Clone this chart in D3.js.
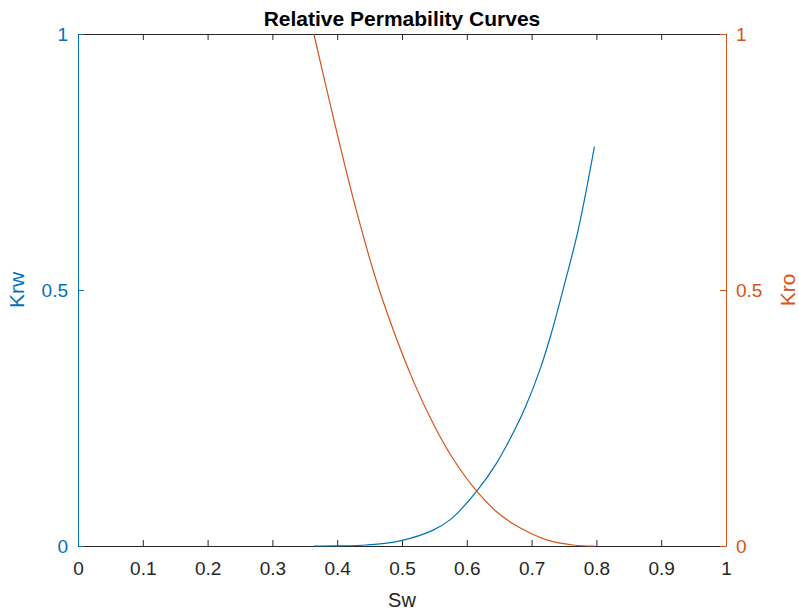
<!DOCTYPE html>
<html>
<head>
<meta charset="utf-8">
<script src="https://cdn.jsdelivr.net/npm/d3@7"></script>
<style>
  body { margin: 0; background: #fff; }
  text { font-family: "Liberation Sans", Arial, sans-serif; }
</style>
</head>
<body>
<svg id="chart" width="799" height="612"></svg>
<script>
// water saturation / relative permeability
const swKrw = [0.364, 0.40, 0.445, 0.497, 0.548, 0.574, 0.59, 0.616, 0.645, 0.672, 0.69, 0.713, 0.731, 0.7515, 0.772, 0.797];
const krw   = [0, 0.0003, 0.002, 0.010, 0.031, 0.051, 0.070, 0.108, 0.160, 0.222, 0.270, 0.345, 0.418, 0.515, 0.618, 0.780];
const swKro = [0.364, 0.40, 0.4275, 0.465, 0.5175, 0.551, 0.58, 0.616, 0.645, 0.672, 0.70, 0.723, 0.764, 0.797];
const kro   = [1.0, 0.805, 0.665, 0.50, 0.322, 0.232, 0.168, 0.106, 0.068, 0.043, 0.024, 0.012, 0.002, 0];

const xTicks = [0, 0.1, 0.2, 0.3, 0.4, 0.5, 0.6, 0.7, 0.8, 0.9, 1];
const yTicks = [0, 0.5, 1];

const blue = "#0072BD", orange = "#D95319", grey = "#262626";
const margin = { left: 78, right: 73, top: 34, bottom: 66 };
const width = 799, height = 612;

const svg = d3.select("#chart");

const x = d3.scaleLinear().domain([0, 1]).range([margin.left, width - margin.right]);
const yL = d3.scaleLinear().domain([0, 1]).range([height - margin.bottom, margin.top]);
const yR = d3.scaleLinear().domain([0, 1]).range([height - margin.bottom, margin.top]);

const fmt = d => String(d);

// bottom axis
const bottomAxis = svg.append("g")
    .attr("transform", `translate(0,${height - margin.bottom})`)
    .call(d3.axisBottom(x).tickValues(xTicks).tickFormat(fmt).tickSizeInner(-6).tickSizeOuter(0).tickPadding(16));
// top axis (box line with ticks)
const topAxis = svg.append("g")
    .attr("transform", `translate(0,${margin.top})`)
    .call(d3.axisTop(x).tickValues(xTicks).tickFormat("").tickSizeInner(-6).tickSizeOuter(0));
[bottomAxis, topAxis].forEach(g => {
  g.select(".domain").attr("stroke", grey);
  g.selectAll(".tick line").attr("stroke", grey);
  g.selectAll("text").attr("fill", grey).attr("font-size", 19);
});

// left axis
const leftAxis = svg.append("g")
    .attr("transform", `translate(${margin.left},0)`)
    .call(d3.axisLeft(yL).tickValues(yTicks).tickFormat(fmt).tickSizeInner(-6).tickSizeOuter(0).tickPadding(10));
leftAxis.select(".domain").attr("stroke", blue);
leftAxis.selectAll(".tick line").attr("stroke", blue);
leftAxis.selectAll("text").attr("fill", blue).attr("font-size", 19);

// right axis
const rightAxis = svg.append("g")
    .attr("transform", `translate(${width - margin.right},0)`)
    .call(d3.axisRight(yR).tickValues(yTicks).tickFormat(fmt).tickSizeInner(-6).tickSizeOuter(0).tickPadding(10));
rightAxis.select(".domain").attr("stroke", orange);
rightAxis.selectAll(".tick line").attr("stroke", orange);
rightAxis.selectAll("text").attr("fill", orange).attr("font-size", 19);

// curves
const line = (xs, ys, yScale) => d3.line()
    .x((d, i) => x(xs[i]))
    .y(d => yScale(d))
    .curve(d3.curveCatmullRom.alpha(0.5))(ys);

svg.append("path").attr("d", line(swKrw, krw, yL))
    .attr("fill", "none").attr("stroke", blue).attr("stroke-width", 1.2);
svg.append("path").attr("d", line(swKro, kro, yR))
    .attr("fill", "none").attr("stroke", orange).attr("stroke-width", 1.2);

// titles and labels
svg.append("text")
    .attr("x", (margin.left + width - margin.right) / 2).attr("y", 26)
    .attr("text-anchor", "middle").attr("font-weight", "bold").attr("font-size", 21)
    .attr("fill", "#000").text("Relative Permability Curves");

svg.append("text")
    .attr("x", x(0.5)).attr("y", 607)
    .attr("text-anchor", "middle").attr("font-size", 20).attr("fill", grey).text("Sw");

svg.append("text")
    .attr("transform", `translate(24,${yL(0.5)}) rotate(-90)`)
    .attr("text-anchor", "middle").attr("font-size", 21).attr("fill", blue).text("Krw");

svg.append("text")
    .attr("transform", `translate(795,${yR(0.5)}) rotate(-90)`)
    .attr("text-anchor", "middle").attr("font-size", 21).attr("fill", orange).text("Kro");
</script>
</body>
</html>
